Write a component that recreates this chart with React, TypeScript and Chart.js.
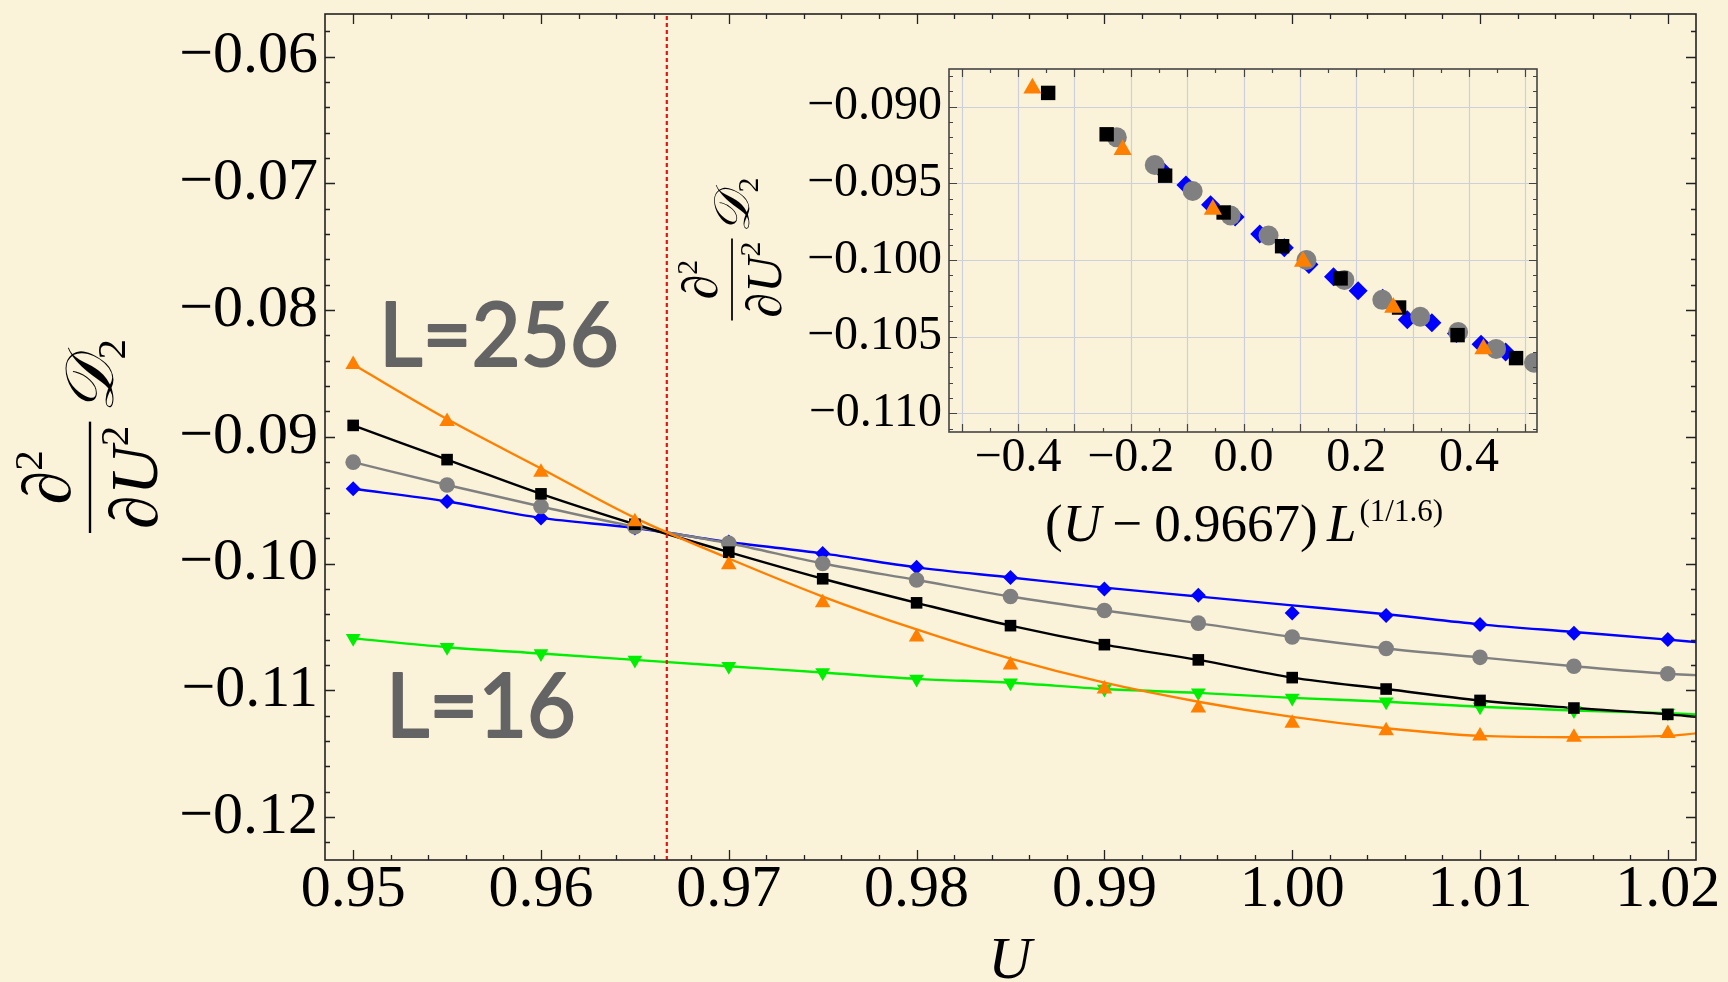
import React, { useEffect, useRef } from 'react';
import { Chart, registerables } from 'chart.js';
Chart.register(...registerables);

// ---------------- data ----------------
const U_VALUES = [0.95, 0.955, 0.96, 0.965, 0.97, 0.975, 0.98, 0.985, 0.99, 0.995, 1.0, 1.005, 1.01, 1.015, 1.02];
const FIT_U = [0.95, 0.955, 0.96, 0.965, 0.97, 0.975, 0.98, 0.985, 0.99, 0.995, 1.0, 1.005, 1.01, 1.015, 1.02, 1.0215];

const P_L256 = [-0.0843, -0.0888, -0.0928, -0.0967, -0.1001, -0.1031, -0.1058, -0.1080, -0.1099, -0.1114, -0.1126, -0.1132, -0.1136, -0.1137, -0.1134];
const P_L128 = [-0.0891, -0.0918, -0.0945, -0.0969, -0.0991, -0.1012, -0.1031, -0.1049, -0.1064, -0.1076, -0.1090, -0.1099, -0.1108, -0.1114, -0.1119];
const P_L64 = [-0.0920, -0.0938, -0.0955, -0.0971, -0.0984, -0.1000, -0.1013, -0.1026, -0.1037, -0.1047, -0.1058, -0.1067, -0.1074, -0.1081, -0.1087];
const P_L32 = [-0.0941, -0.0951, -0.0964, -0.0972, -0.0983, -0.0992, -0.1003, -0.1011, -0.1020, -0.1025, -0.1039, -0.1041, -0.1048, -0.1055, -0.1060];
const P_L16 = [-0.1059, -0.1066, -0.1071, -0.1076, -0.1081, -0.1086, -0.1091, -0.1094, -0.1099, -0.1102, -0.1106, -0.1109, -0.1113, -0.1116, -0.1118];

const FIT_L256 = [-0.0843, -0.0886, -0.0925, -0.0964, -0.0996, -0.1026, -0.1052, -0.1075, -0.1094, -0.1109, -0.1121, -0.1130, -0.1136, -0.1137, -0.1136, -0.1134];
const FIT_L128 = [-0.0891, -0.0918, -0.0945, -0.0969, -0.0991, -0.1012, -0.1031, -0.1049, -0.1064, -0.1076, -0.1090, -0.1099, -0.1108, -0.1114, -0.1119, -0.1121];
const FIT_L64 = [-0.0920, -0.0938, -0.0955, -0.0971, -0.0984, -0.1000, -0.1013, -0.1026, -0.1037, -0.1047, -0.1058, -0.1067, -0.1074, -0.1081, -0.1087, -0.1088];
const FIT_L32 = [-0.0941, -0.0951, -0.0964, -0.0972, -0.0983, -0.0992, -0.1003, -0.1011, -0.1019, -0.1026, -0.1033, -0.1040, -0.1048, -0.1054, -0.1060, -0.1062];
const FIT_L16 = [-0.1059, -0.1066, -0.1071, -0.1076, -0.1081, -0.1086, -0.1091, -0.1094, -0.1099, -0.1102, -0.1106, -0.1109, -0.1113, -0.1116, -0.1118, -0.1119];

const SIZES = [256, 128, 64, 32, 16];
const U_CRIT = 0.9667;
const NU = 1.6;

const X_TICKS = [0.95, 0.96, 0.97, 0.98, 0.99, 1.0, 1.01, 1.02];
const Y_TICKS = [-0.06, -0.07, -0.08, -0.09, -0.1, -0.11, -0.12];
const INSET_X_TICKS = [-0.4, -0.2, 0.0, 0.2, 0.4];
const INSET_Y_TICKS = [-0.09, -0.095, -0.1, -0.105, -0.11];
const INSET_X_GRID = [-0.5, -0.4, -0.3, -0.2, -0.1, 0.0, 0.1, 0.2, 0.3, 0.4, 0.5];

const LABEL_BIG = 'L=256';
const LABEL_SMALL = 'L=16';

// ---------------- style ----------------
const BG = 'rgb(250,243,218)';
const ORANGE = 'rgb(255,128,0)';
const BLACK = '#000000';
const GRAY = 'rgb(128,128,128)';
const BLUE = 'rgb(0,0,255)';
const GREEN = 'rgb(0,238,0)';
const RED = 'rgb(230,20,20)';
const SERIF = '"Liberation Serif", "Times New Roman", "DejaVu Serif", serif';

const SERIES = [
  { pts: P_L256, fit: FIT_L256, color: ORANGE, style: 'triangle', rot: 0, r: 9, ri: 10.5 },
  { pts: P_L128, fit: FIT_L128, color: BLACK, style: 'rect', rot: 0, r: 8.2, ri: 10.2 },
  { pts: P_L64, fit: FIT_L64, color: GRAY, style: 'circle', rot: 0, r: 7.8, ri: 10 },
  { pts: P_L32, fit: FIT_L32, color: BLUE, style: 'rectRot', rot: 0, r: 7.5, ri: 9.5 },
  { pts: P_L16, fit: FIT_L16, color: GREEN, style: 'triangle', rot: 180, r: 8.5, ri: 9 },
];

function gridValues(min: number, max: number, step: number) {
  const out: number[] = [];
  const k0 = Math.ceil(min / step - 1e-9);
  const k1 = Math.floor(max / step + 1e-9);
  for (let k = k0; k <= k1; k++) out.push(k * step);
  return out;
}

function isIn(v: number, list: number[], tol: number) {
  return list.some((m) => Math.abs(m - v) < tol);
}

function drawFrameAndTicks(chart: any, o: any) {
  const ctx = chart.ctx;
  const { left, right, top, bottom } = chart.chartArea;
  const xs = chart.scales.x;
  const ys = chart.scales.y;
  ctx.save();
  ctx.strokeStyle = o.color;
  ctx.lineWidth = o.lw;
  ctx.beginPath();
  for (const v of gridValues(xs.min, xs.max, o.xStep)) {
    const len = isIn(v, o.xMajor, o.xStep * 0.1) ? o.majorLen : o.minorLen;
    const p = Math.round(xs.getPixelForValue(v)) + 0.5;
    ctx.moveTo(p, bottom);
    ctx.lineTo(p, bottom - len);
    ctx.moveTo(p, top);
    ctx.lineTo(p, top + len);
  }
  for (const v of gridValues(ys.min, ys.max, o.yStep)) {
    const len = isIn(v, o.yMajor, o.yStep * 0.1) ? o.majorLen : o.minorLen;
    const p = Math.round(ys.getPixelForValue(v)) + 0.5;
    ctx.moveTo(left, p);
    ctx.lineTo(left + len, p);
    ctx.moveTo(right, p);
    ctx.lineTo(right - len, p);
  }
  ctx.stroke();
  ctx.lineWidth = o.frameLw;
  ctx.strokeRect(left, top, right - left, bottom - top);
  ctx.restore();
}

// rotated  d^2/dU^2 D_2 label
function drawDerivLabel(ctx: CanvasRenderingContext2D, barX: number, centerY: number, F: number) {
  const fN = `${F}px ${SERIF}`;
  const fI = `italic ${F}px ${SERIF}`;
  const fS = `${Math.round(F * 0.6)}px ${SERIF}`;
  ctx.save();
  ctx.translate(barX, centerY);
  ctx.rotate(-Math.PI / 2);
  ctx.fillStyle = '#000';
  ctx.strokeStyle = '#000';
  ctx.textBaseline = 'alphabetic';
  ctx.textAlign = 'left';
  ctx.font = fN;
  const wd = ctx.measureText('\u2202').width;
  ctx.font = fI;
  const wu = ctx.measureText('U').width;
  ctx.font = fS;
  const w2 = ctx.measureText('2').width;
  const numW = wd + w2;
  const denW = wd + wu + w2;
  const barLen = Math.max(numW, denW) + F * 0.12;
  ctx.font = fI;
  const wD = ctx.measureText('\uD835\uDC9F').width;
  const total = barLen + F * 0.12 + wD + w2;
  const x0 = -total / 2;
  ctx.lineWidth = Math.max(1.5, F * 0.035);
  ctx.beginPath();
  ctx.moveTo(x0, 0);
  ctx.lineTo(x0 + barLen, 0);
  ctx.stroke();
  let nx = x0 + (barLen - numW) / 2;
  const nb = -F * 0.3;
  ctx.font = fN;
  ctx.fillText('\u2202', nx, nb);
  nx += wd;
  ctx.font = fS;
  ctx.fillText('2', nx, nb - F * 0.4);
  let dx = x0 + (barLen - denW) / 2;
  const db = F * 0.98;
  ctx.font = fN;
  ctx.fillText('\u2202', dx, db);
  dx += wd;
  ctx.font = fI;
  ctx.fillText('U', dx, db);
  dx += wu;
  ctx.font = fS;
  ctx.fillText('2', dx, db - F * 0.42);
  const Dx = x0 + barLen + F * 0.12;
  ctx.font = fI;
  ctx.fillText('\uD835\uDC9F', Dx, F * 0.34);
  ctx.font = fS;
  ctx.fillText('2', Dx + wD, F * 0.52);
  ctx.restore();
}

const mainDecor = {
  id: 'mainDecor',
  afterDatasetsDraw(chart: any) {
    const ctx = chart.ctx as CanvasRenderingContext2D;
    drawFrameAndTicks(chart, {
      color: '#222', lw: 1.3, frameLw: 1.6, majorLen: 10, minorLen: 5,
      xStep: 0.002, yStep: 0.002, xMajor: X_TICKS, yMajor: Y_TICKS,
    });
    drawDerivLabel(ctx, 90, 436, 68);
    ctx.save();
    ctx.fillStyle = '#000';
    ctx.font = `italic 60px ${SERIF}`;
    ctx.textAlign = 'center';
    ctx.textBaseline = 'alphabetic';
    ctx.fillText('U', 1010, 978);
    ctx.fillStyle = 'rgb(100,100,100)';
    ctx.strokeStyle = 'rgb(100,100,100)';
    ctx.lineWidth = 2.2;
    ctx.lineJoin = 'round';
    ctx.textAlign = 'left';
    ctx.font = `90px Lato, "Open Sans", sans-serif`;
    ctx.fillText(LABEL_BIG, 379, 366, 240);
    ctx.strokeText(LABEL_BIG, 379, 366, 240);
    ctx.fillText(LABEL_SMALL, 386, 737, 190);
    ctx.strokeText(LABEL_SMALL, 386, 737, 190);
    ctx.restore();
  },
};

const INSET_LEFT = 640;
const INSET_TOP = 55;

const insetDecor = {
  id: 'insetDecor',
  beforeDatasetsDraw(chart: any) {
    const ctx = chart.ctx as CanvasRenderingContext2D;
    const { left, right, top, bottom } = chart.chartArea;
    const xs = chart.scales.x;
    const ys = chart.scales.y;
    ctx.save();
    ctx.strokeStyle = 'rgb(205,208,218)';
    ctx.lineWidth = 1.2;
    ctx.beginPath();
    for (const v of INSET_X_GRID) {
      const p = Math.round(xs.getPixelForValue(v)) + 0.5;
      ctx.moveTo(p, top);
      ctx.lineTo(p, bottom);
    }
    for (const v of INSET_Y_TICKS) {
      const p = Math.round(ys.getPixelForValue(v)) + 0.5;
      ctx.moveTo(left, p);
      ctx.lineTo(right, p);
    }
    ctx.stroke();
    ctx.restore();
  },
  afterDatasetsDraw(chart: any) {
    const ctx = chart.ctx as CanvasRenderingContext2D;
    drawFrameAndTicks(chart, {
      color: '#444', lw: 1.2, frameLw: 1.6, majorLen: 8, minorLen: 4,
      xStep: 0.05, yStep: 0.001, xMajor: INSET_X_GRID, yMajor: INSET_Y_TICKS,
    });
    drawDerivLabel(ctx, 732 - INSET_LEFT, 249 - INSET_TOP, 50);
    // x title: (U - 0.9667) L^(1/1.6)
    ctx.save();
    ctx.fillStyle = '#000';
    ctx.textBaseline = 'alphabetic';
    ctx.textAlign = 'left';
    const F = 53;
    const fN = `${F}px ${SERIF}`;
    const fI = `italic ${F}px ${SERIF}`;
    const parts: [string, string, number][] = [
      ['(', fN, 0], ['U', fI, 0.22], ['\u2212', fN, 0.22], [`${U_CRIT})`, fN, 0.18], ['L', fI, 0],
    ];
    let x = 1045 - INSET_LEFT;
    const base = 541 - INSET_TOP;
    for (const [t, f, gap] of parts) {
      ctx.font = f;
      ctx.fillText(t, x, base);
      x += ctx.measureText(t).width + gap * F;
    }
    ctx.font = `31px ${SERIF}`;
    ctx.fillText(`(1/${NU})`, x + 3, base - 20);
    ctx.restore();
  },
};

const noPadY = (w: number) => (s: any) => { s.width = w; s.paddingTop = 0; s.paddingBottom = 0; };
const noPadX = (h: number) => (s: any) => { s.height = h; s.paddingLeft = 0; s.paddingRight = 0; };

export default function App() {
  const mainRef = useRef<HTMLCanvasElement>(null);
  const insetRef = useRef<HTMLCanvasElement>(null);

  useEffect(() => {
    document.body.style.margin = '0';
    document.body.style.background = BG;

    const mainDatasets: any[] = [];
    SERIES.forEach((s, i) => {
      mainDatasets.push({
        data: FIT_U.map((u, k) => ({ x: u, y: s.fit[k] })),
        showLine: true,
        borderColor: s.color,
        borderWidth: 2.4,
        pointRadius: 0,
        cubicInterpolationMode: 'monotone',
        order: 20 + i,
      });
      mainDatasets.push({
        data: U_VALUES.map((u, k) => ({ x: u, y: s.pts[k] })),
        showLine: false,
        pointStyle: s.style,
        rotation: s.rot,
        pointRadius: s.r,
        backgroundColor: s.color,
        borderColor: s.color,
        borderWidth: 0,
        order: 5 + i,
      });
    });
    const Y_MIN = -0.12339;
    const Y_MAX = -0.05664;
    mainDatasets.push({
      data: [{ x: U_CRIT, y: Y_MIN }, { x: U_CRIT, y: Y_MAX }],
      showLine: true,
      borderColor: RED,
      borderWidth: 2.2,
      borderDash: [4, 3],
      pointRadius: 0,
      order: 0,
    });

    const tickFontMain = { family: SERIF, size: 60, lineHeight: 1 };

    const main = new Chart(mainRef.current as HTMLCanvasElement, {
      type: 'scatter',
      data: { datasets: mainDatasets },
      plugins: [mainDecor],
      options: {
        responsive: false,
        animation: false,
        events: [],
        layout: { padding: { left: 0, right: 32, top: 14, bottom: 0 } },
        plugins: { legend: { display: false }, tooltip: { enabled: false } },
        scales: {
          x: {
            type: 'linear',
            min: 0.9485,
            max: 1.0215,
            afterFit: noPadX(122),
            afterBuildTicks: (s: any) => { s.ticks = X_TICKS.map((value) => ({ value })); },
            grid: { display: false, drawTicks: false },
            border: { display: false },
            ticks: {
              autoSkip: false, maxRotation: 0, minRotation: 0, padding: 0,
              color: '#000', font: tickFontMain,
              callback: (v: any) => Number(v).toFixed(2),
            },
          },
          y: {
            type: 'linear',
            min: Y_MIN,
            max: Y_MAX,
            afterFit: noPadY(325),
            afterBuildTicks: (s: any) => { s.ticks = Y_TICKS.map((value) => ({ value })); },
            grid: { display: false, drawTicks: false },
            border: { display: false },
            ticks: {
              autoSkip: false, padding: 7,
              color: '#000', font: tickFontMain,
              callback: (v: any) => (Number(v) < 0 ? '\u2212' : '') + Math.abs(Number(v)).toFixed(2),
            },
          },
        },
      } as any,
    });

    const insetDatasets: any[] = SERIES.slice(0, 4).map((s, i) => {
      const f = Math.pow(SIZES[i], 1 / NU);
      return {
        data: U_VALUES.map((u, k) => ({ x: (u - U_CRIT) * f, y: s.pts[k] })),
        showLine: false,
        pointStyle: s.style,
        rotation: s.rot,
        pointRadius: s.ri,
        backgroundColor: s.color,
        borderColor: s.color,
        borderWidth: 0,
        order: i,
      };
    });

    const tickFontInset = { family: SERIF, size: 48, lineHeight: 1 };
    const inset = new Chart(insetRef.current as HTMLCanvasElement, {
      type: 'scatter',
      data: { datasets: insetDatasets },
      plugins: [insetDecor],
      options: {
        responsive: false,
        animation: false,
        events: [],
        layout: { padding: { left: 0, right: 13, top: 14, bottom: 0 } },
        plugins: { legend: { display: false }, tooltip: { enabled: false } },
        scales: {
          x: {
            type: 'linear',
            min: -0.5224,
            max: 0.5206,
            afterFit: noPadX(133),
            afterBuildTicks: (s: any) => { s.ticks = INSET_X_TICKS.map((value) => ({ value })); },
            grid: { display: false, drawTicks: false },
            border: { display: false },
            ticks: {
              autoSkip: false, maxRotation: 0, minRotation: 0, padding: 2,
              color: '#000', font: tickFontInset,
              callback: (v: any) => (Number(v) < -1e-9 ? '\u2212' : '') + Math.abs(Number(v)).toFixed(1),
            },
          },
          y: {
            type: 'linear',
            min: -0.11122,
            max: -0.08754,
            afterFit: noPadY(309),
            afterBuildTicks: (s: any) => { s.ticks = INSET_Y_TICKS.map((value) => ({ value })); },
            grid: { display: false, drawTicks: false },
            border: { display: false },
            ticks: {
              autoSkip: false, padding: 7,
              color: '#000', font: tickFontInset,
              callback: (v: any) => (Number(v) < 0 ? '\u2212' : '') + Math.abs(Number(v)).toFixed(3),
            },
          },
        },
      } as any,
    });

    return () => {
      main.destroy();
      inset.destroy();
    };
  }, []);

  return (
    <div style={{ position: 'fixed', left: 0, top: 0, width: 1728, height: 982, background: BG, overflow: 'hidden' }}>
      <canvas ref={mainRef} width={1728} height={982}
        style={{ position: 'absolute', left: 0, top: 0, width: 1728, height: 982 }} />
      <canvas ref={insetRef} width={910} height={510}
        style={{ position: 'absolute', left: INSET_LEFT, top: INSET_TOP, width: 910, height: 510 }} />
    </div>
  );
}
